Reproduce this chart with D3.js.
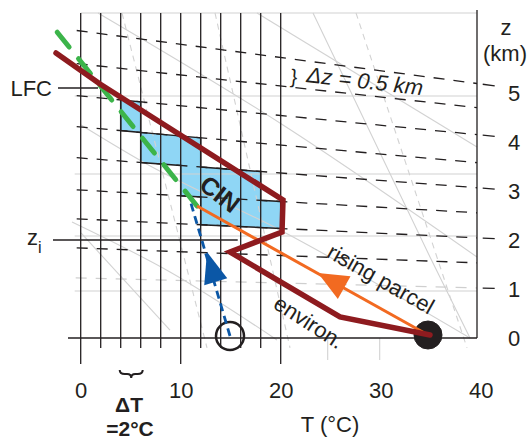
<!DOCTYPE html>
<html><head><meta charset="utf-8">
<script src="https://cdn.jsdelivr.net/npm/d3@7"></script>
<style>
body{margin:0;background:#fff;}
svg{display:block;}
text{font-family:"Liberation Sans",Arial,Helvetica,sans-serif;fill:#231f20;}
</style>
</head><body>
<svg id="c" width="530" height="440"></svg>
<script>
// ---------------- data ----------------
const xTicks = [0, 10, 20, 30, 40];                 // T (°C) labels
const zTicks = [0, 1, 2, 3, 4, 5];                  // z (km) labels
const isotherms = [0, 2, 4, 6, 8, 10, 12, 14, 16, 18, 20];
const majorIsotherms = [0, 10, 20];
// dashed constant-height lines (km) and their chart height at T=0 and T=40
const zLevels   = [1, 1.5, 2, 2.5, 3, 3.5, 4, 4.5, 5];
const zLevelAt0  = [1.224, 1.837, 2.429, 3.020, 3.673, 4.306, 4.939, 5.592, 6.265];
const zLevelAt40 = [1.020, 1.531, 2.041, 2.551, 3.061, 3.571, 4.143, 4.694, 5.184];
const isobarY = [0.959, 2.082, 3.347, 4.939, 6.633];
// environment sounding
const envT = [-2.47, 1.93, 20.23, 20.13, 14.93, 25.93, 34.93];
const envY = [5.816, 5.184, 2.816, 2.163, 1.755, 0.429, 0.061];
// rising parcel (dry) and moist part
const parcelT = [34.73, 11.63];
const parcelY = [0.061, 2.694];
const moistT = [11.63, -2.37];
const moistY = [2.694, 6.245];
// blue dashed path
const blueT = [14.93, 10.93];
const blueY = [0.041, 2.816];
// CIN staircase (T, height level)
const cinT = [4, 6, 6, 12, 12, 18, 18, 20, 20, 12, 12, 10, 10, 6, 6, 4];
const cinH = [4, 4, 3.5, 3.5, 3, 3, 2.5, 2.5, 2, 2, 2.5, 2.5, 3, 3, 3.5, 3.5];
// light background lines
const dryAdiabats = [
  [[1.73, 6.633], [20.23, 4.347], [39.63, 1.653]],
  [[17.63, 6.633], [39.63, 3.898]],
  [[0.03, 4.347], [6.23, 3.592], [19.93, 2.204], [38.93, 0]],
  [[-0.87, 2.367], [8.93, 1.347], [19.63, -0.04]]
];
const moistAdiabats = [
  [[0.03, 2.143], [8.93, 0.163]],
  [[23.23, 6.633], [34.93, 1.653], [38.93, 0]]
];
const mixingLines = [
  [[4.13, 6.633], [12.63, -0.2]],
  [[13.43, 6.633], [20.93, -0.2]],
  [[27.53, 6.633], [38.63, -0.2]]
];
const grayTicksT = [24.7, 29.9];

// ---------------- scales ----------------
const X = d3.scaleLinear().domain([0, 40]).range([80.7, 480.7]);
const Y = d3.scaleLinear().domain([0, 5]).range([338, 93]);
const BLACK = "#231f20", GRAY = "#d2d2d2";
const svg = d3.select("#c");
const line = d3.line().x(d => X(d[0])).y(d => Y(d[1]));
function zY(h, T) { const i = zLevels.indexOf(h); return zLevelAt0[i] + (zLevelAt40[i] - zLevelAt0[i]) * T / 40; }

const yTop = 6.633, yBotShort = -0.204, yBotLong = -0.531, tFrame = 39.63;

// ---------------- CIN fill ----------------
const cinPts = cinT.map((t, i) => [t, zY(cinH[i], t)]);
svg.append("path").attr("d", line(cinPts) + "Z").attr("fill", "#8fd6f5").attr("stroke", "none");

// ---------------- light gray lines ----------------
const gG = svg.append("g").attr("fill", "none").attr("stroke", GRAY).attr("stroke-width", 1.1);
isobarY.forEach(v => gG.append("path").attr("d", line([[v > 6 ? 0 : -0.6, v], [tFrame, v]])));
dryAdiabats.forEach(a => gG.append("path").attr("d", d3.line().x(d => X(d[0])).y(d => Y(d[1])).curve(d3.curveMonotoneX)(a)));
moistAdiabats.forEach(a => gG.append("path").attr("d", line(a)));
mixingLines.forEach(a => gG.append("path").attr("d", line(a)).attr("stroke-dasharray", "6,5"));
grayTicksT.forEach(t => gG.append("path").attr("d", line([[t, 0], [t, -0.45]])));
// lowest height line (gray dashed)
gG.append("path").attr("d", line([[-0.5, zY(1, -0.5)], [tFrame, zY(1, tFrame)]])).attr("stroke-dasharray", "11,9").attr("stroke", "#cfcfcf").attr("stroke-width", 1.4);

// ---------------- black grid ----------------
const gK = svg.append("g").attr("fill", "none").attr("stroke", BLACK).attr("stroke-width", 1.3);
isotherms.forEach(t => {
  const bot = majorIsotherms.includes(t) ? yBotLong : yBotShort;
  gK.append("path").attr("d", line([[t, yTop], [t, bot]]));
});
// dashed height lines
zLevels.filter(h => h > 1).forEach(h => {
  gK.append("path").attr("d", line([[-0.4, zY(h, -0.4)], [tFrame, zY(h, tFrame)]])).attr("stroke-dasharray", "11,9");
});
// right tick marks
zTicks.filter(z => z > 0).forEach(z => {
  gK.append("path").attr("d", line([[40.2, zY(z, 40.2)], [41.4, zY(z, 41.4)]]));
});
// surface line, frame
gK.append("path").attr("d", line([[-1.27, 0], [tFrame, 0]]));
gK.append("path").attr("d", line([[tFrame, 6.694], [tFrame, 0]]));
// CIN outline
gK.append("path").attr("d", line(cinPts) + "Z").attr("stroke-width", 1.5).attr("stroke-linejoin", "miter");
// LFC and zi lines
gK.append("path").attr("d", line([[-2.27, 5.102], [1.73, 5.102]]));
gK.append("path").attr("d", line([[-2.77, 2.0], [15.7, 2.0]]));

// ---------------- circles ----------------
svg.append("circle").attr("cx", X(34.73)).attr("cy", Y(0.061)).attr("r", 14)
  .attr("fill", BLACK).attr("stroke", BLACK).attr("stroke-width", 1);
svg.append("circle").attr("cx", X(14.93)).attr("cy", Y(0.041)).attr("r", 14)
  .attr("fill", "none").attr("stroke", BLACK).attr("stroke-width", 2.5);

// ---------------- profiles ----------------
const zip = (a, b) => a.map((v, i) => [v, b[i]]);
svg.append("path").attr("d", line(zip(moistT, moistY))).attr("fill", "none")
  .attr("stroke", "#3cb44a").attr("stroke-width", 5).attr("stroke-dasharray", "19,15").attr("stroke-linecap", "round");
svg.append("path").attr("d", line(zip(blueT, blueY))).attr("fill", "none")
  .attr("stroke", "#0b57a6").attr("stroke-width", 2.8).attr("stroke-dasharray", "8,5");
svg.append("path").attr("d", line(zip(parcelT, parcelY))).attr("fill", "none")
  .attr("stroke", "#f26a21").attr("stroke-width", 3);
svg.append("path").attr("d", line(zip(envT, envY))).attr("fill", "none")
  .attr("stroke", "#8e1b1f").attr("stroke-width", 5.5).attr("stroke-linejoin", "miter").attr("stroke-linecap", "round");

// arrow heads
function arrow(tipT, tipY, fromT, fromY, toT, toY, len, half, color) {
  const tx = X(tipT), ty = Y(tipY);
  let ux = X(toT) - X(fromT), uy = Y(toY) - Y(fromY);
  const L = Math.hypot(ux, uy); ux /= L; uy /= L;
  const bx = tx - ux * len, by = ty - uy * len;
  const nx = -uy, ny = ux;
  svg.append("path").attr("d", `M${tx},${ty}L${bx + nx * half},${by + ny * half}L${bx - nx * half},${by - ny * half}Z`)
    .attr("fill", color);
}
arrow(23.73, 1.327, parcelT[0], parcelY[0], parcelT[1], parcelY[1], 30, 13, "#f26a21");
arrow(12.63, 1.755, blueT[0], blueY[0], blueT[1], blueY[1], 31, 12, "#0b57a6");

// ---------------- axes labels ----------------
const gx = svg.append("g").attr("transform", "translate(0,398)")
  .call(d3.axisBottom(X).tickValues(xTicks).tickFormat(d3.format("d")).tickSize(0).tickPadding(0));
gx.select(".domain").remove();
gx.selectAll("text").attr("y", 0).attr("dy", 0).attr("font-size", 22).attr("fill", BLACK)
  .style("font-family", '"Liberation Sans",Arial,sans-serif');

const gy = svg.append("g").attr("transform", "translate(514,0)")
  .call(d3.axisRight(Y).tickValues(zTicks).tickFormat(d3.format("d")).tickSize(0).tickPadding(0));
gy.select(".domain").remove();
gy.selectAll("text").attr("x", 0).attr("dy", "0.36em").attr("text-anchor", "middle").attr("font-size", 22).attr("fill", BLACK)
  .style("font-family", '"Liberation Sans",Arial,sans-serif');

function txt(x, y, s, opts = {}) {
  const t = svg.append("text").attr("x", x).attr("y", y).attr("font-size", opts.size || 22)
    .attr("text-anchor", opts.anchor || "start").text(s);
  if (opts.bold) t.attr("font-weight", "bold");
  if (opts.italic) t.attr("font-style", "italic");
  if (opts.rot !== undefined) t.attr("transform", `rotate(${opts.rot},${x},${y})`);
  if (opts.dy) t.attr("dy", opts.dy);
  return t;
}
txt(506, 35, "z", { anchor: "middle" });
txt(505, 61, "(km)", { anchor: "middle" });
txt(330, 432, "T (°C)", { anchor: "middle" });
txt(52, Y(5.102) + 8, "LFC", { anchor: "end" });
const zi = svg.append("text").attr("x", 27).attr("y", Y(2.0) + 5).attr("font-size", 22);
zi.append("tspan").text("z");
zi.append("tspan").attr("font-size", 16).attr("dy", 8).text("i");
txt(129, 412, "ΔT", { anchor: "middle", bold: true, size: 21 });
txt(130, 436, "=2°C", { anchor: "middle", bold: true, size: 21 });
// brace under grid (ΔT)
const bx0 = X(4) - 1, bx1 = X(6) + 2, bxm = (bx0 + bx1) / 2, by0 = 370;
svg.append("path").attr("d",
  `M${bx0},${by0}Q${bx0},${by0 + 4} ${bx0 + 5},${by0 + 4}L${bxm - 4},${by0 + 4}Q${bxm},${by0 + 4} ${bxm},${by0 + 8}Q${bxm},${by0 + 4} ${bxm + 4},${by0 + 4}L${bx1 - 5},${by0 + 4}Q${bx1},${by0 + 4} ${bx1},${by0}`)
  .attr("fill", "none").attr("stroke", BLACK).attr("stroke-width", 2);
// Δz annotation
txt(290, 83, "}", { size: 20, rot: 6.5 });
txt(306, 82, "Δz = 0.5 km", { italic: true, size: 22, rot: 6.5 });
// rotated labels
txt(220, 194, "CIN", { anchor: "middle", bold: true, size: 25, rot: 38, dy: "0.35em" });
txt(381, 279, "rising parcel", { anchor: "middle", size: 22, rot: 29.5, dy: "0.35em" });
txt(309, 322, "environ.", { anchor: "middle", size: 22, rot: 33, dy: "0.35em" });
</script>
</body></html>
